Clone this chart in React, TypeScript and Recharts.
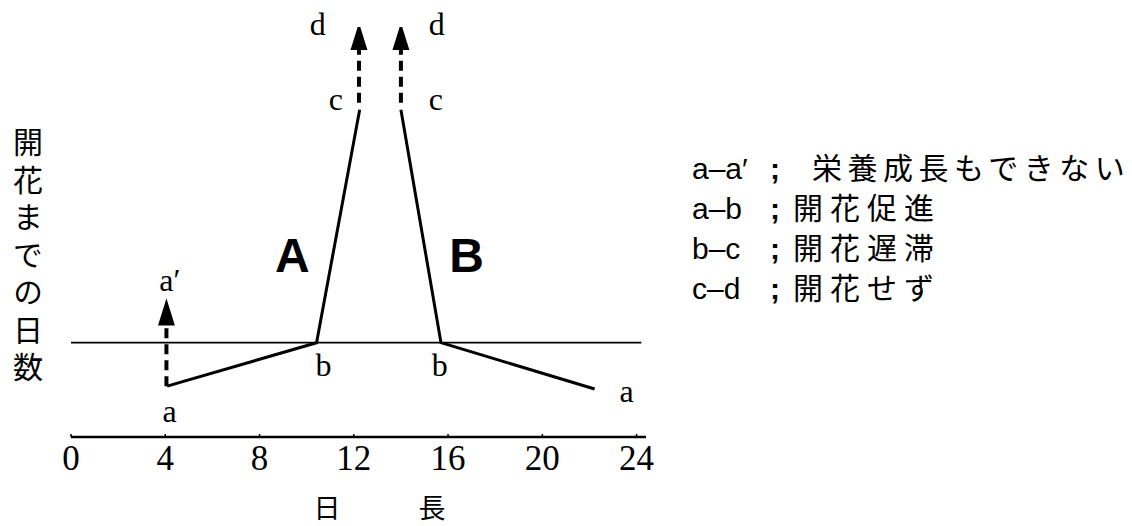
import React from "react";
import { LineChart, Line, XAxis, YAxis, ReferenceLine, ReferenceDot } from "recharts";

// day length (h) on x, days to flowering (relative) on y
const xTicks = [0, 4, 8, 12, 16, 20, 24];

const curveA = [
  { x: 4.08, y: 12.4 },
  { x: 10.42, y: 23.0 },
  { x: 12.25, y: 79.8 },
];
const curveB = [
  { x: 22.22, y: 11.7 },
  { x: 15.7, y: 23.0 },
  { x: 14.0, y: 79.8 },
];
const arrowUpA = [
  { x: 12.22, y: 81.5 },
  { x: 12.22, y: 94.4 },
];
const arrowUpB = [
  { x: 14.0, y: 81.5 },
  { x: 14.0, y: 94.4 },
];
const arrowUpA0 = [
  { x: 4.05, y: 12.4 },
  { x: 4.05, y: 27.2 },
];
const criticalLevel = 23.0;

const pointLabels = [
  { text: "d", x: 10.47, y: 100.8 },
  { text: "d", x: 15.52, y: 100.8 },
  { text: "c", x: 11.24, y: 82.6 },
  { text: "c", x: 15.48, y: 82.6 },
  { text: "a′", x: 4.2, y: 38.3 },
  { text: "a", x: 4.18, y: 6.4 },
  { text: "b", x: 10.71, y: 17.6 },
  { text: "b", x: 15.65, y: 17.6 },
  { text: "a", x: 23.58, y: 11.4 },
];
const curveNames = [
  { text: "A", x: 9.39, y: 44.5 },
  { text: "B", x: 16.79, y: 44.5 },
];

const legendRows = [
  { key: "a–a′", desc: "栄養成長もできない" },
  { key: "a–b", desc: "開花促進" },
  { key: "b–c", desc: "開花遅滞" },
  { key: "c–d", desc: "開花せず" },
];

const yTitle = "開花までの日数";
const xTitle = ["日", "長"];

const arrowHead = (last: number) => (props: any) => {
  const { cx, cy, index } = props;
  if (index !== last) return <g key={index} />;
  return (
    <path
      key={index}
      d={`M${cx - 8.5},${cy} L${cx},${cy - 27} L${cx + 8.5},${cy} Z`}
      fill="#000"
    />
  );
};

export default function App() {
  const serif = "'Liberation Serif', 'DejaVu Serif', serif";
  const sans = "'Liberation Sans', Arial, sans-serif";
  const jp = "'Noto Sans CJK JP', 'Noto Sans', sans-serif";
  return (
    <div style={{ position: "absolute", left: 0, top: 0, width: 1132, height: 526, background: "#fff" }}>
      <LineChart
        width={660}
        height={526}
        margin={{ top: 27, right: 14, left: 71, bottom: 29 }}
      >
        <XAxis
          type="number"
          dataKey="x"
          domain={[0, 24.4]}
          ticks={xTicks}
          height={60}
          axisLine={{ stroke: "#000", strokeWidth: 2.5 }}
          tickLine={{ stroke: "#000", strokeWidth: 1.5 }}
          tickSize={-3}
          tickMargin={11.5}
          tick={{ fontSize: 35, fontFamily: serif, fill: "#000" }}
          allowDataOverflow
        />
        <YAxis
          type="number"
          domain={[0, 100]}
          width={0}
          tick={false}
          tickLine={false}
          axisLine={{ stroke: "#000", strokeWidth: 2 }}
          allowDataOverflow
        />
        <ReferenceLine
          segment={[
            { x: 0, y: criticalLevel },
            { x: 24.2, y: criticalLevel },
          ]}
          stroke="#000"
          strokeWidth={1.8}
          ifOverflow="visible"
        />
        <Line data={curveA} dataKey="y" stroke="#000" strokeWidth={3} dot={false} isAnimationActive={false} />
        <Line data={curveB} dataKey="y" stroke="#000" strokeWidth={3} dot={false} isAnimationActive={false} />
        <Line
          data={arrowUpA}
          dataKey="y"
          stroke="#000"
          strokeWidth={4}
          strokeDasharray="10 6"
          dot={arrowHead(arrowUpA.length - 1)}
          isAnimationActive={false}
        />
        <Line
          data={arrowUpB}
          dataKey="y"
          stroke="#000"
          strokeWidth={4}
          strokeDasharray="10 6"
          dot={arrowHead(arrowUpB.length - 1)}
          isAnimationActive={false}
        />
        <Line
          data={arrowUpA0}
          dataKey="y"
          stroke="#000"
          strokeWidth={4}
          strokeDasharray="10 6"
          dot={arrowHead(arrowUpA0.length - 1)}
          isAnimationActive={false}
        />
        {pointLabels.map((l, i) => (
          <ReferenceDot
            key={"p" + i}
            x={l.x}
            y={l.y}
            r={0}
            fill="none"
            stroke="none"
            ifOverflow="visible"
            label={{ value: l.text, position: "center", fontSize: 32, fontFamily: serif, fill: "#000" }}
          />
        ))}
        {curveNames.map((l, i) => (
          <ReferenceDot
            key={"n" + i}
            x={l.x}
            y={l.y}
            r={0}
            fill="none"
            stroke="none"
            ifOverflow="visible"
            label={{
              value: l.text,
              position: "center",
              fontSize: 48,
              fontWeight: "bold",
              fontFamily: sans,
              fill: "#000",
            }}
          />
        ))}
        <text x={327} y={518} textAnchor="middle" fontSize={27} fontFamily={jp} fill="#000">
          {xTitle[0]}
        </text>
        <text x={432} y={518} textAnchor="middle" fontSize={27} fontFamily={jp} fill="#000">
          {xTitle[1]}
        </text>
      </LineChart>

      <div
        style={{
          position: "absolute",
          left: 13,
          top: 127,
          writingMode: "vertical-rl",
          fontFamily: jp,
          fontSize: 30,
          lineHeight: "30px",
          letterSpacing: 7.5,
          color: "#000",
        }}
      >
        {yTitle}
      </div>

      <div style={{ position: "absolute", left: 692, top: 146, fontSize: 30, color: "#000" }}>
        {legendRows.map((r, i) => (
          <div key={i} style={{ height: 40, lineHeight: "40px", whiteSpace: "nowrap" }}>
            <span style={{ display: "inline-block", width: 78, fontFamily: sans }}>{r.key}</span>
            <span style={{ display: "inline-block", width: i === 0 ? 42 : 23, fontFamily: sans, fontWeight: "bold" }}>;</span>
            <span style={{ fontFamily: jp, letterSpacing: i === 0 ? 5.5 : 7 }}>{r.desc}</span>
          </div>
        ))}
      </div>
    </div>
  );
}
